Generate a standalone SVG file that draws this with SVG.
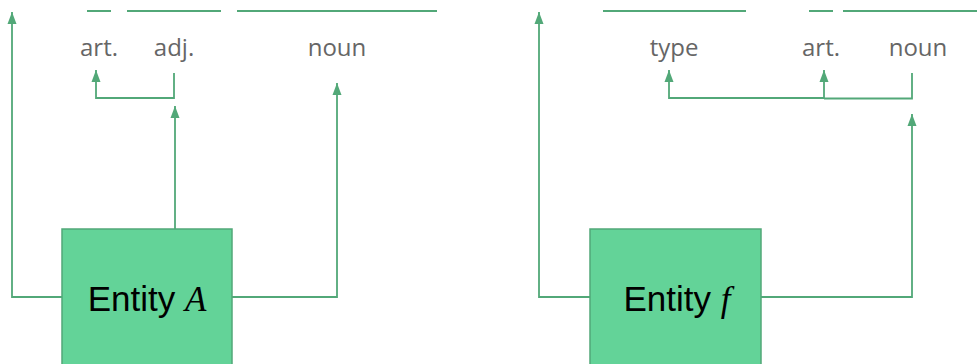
<svg xmlns="http://www.w3.org/2000/svg" width="977" height="364" viewBox="0 0 977 364">
  <style>
    .wire { fill: none; stroke: #52a878; stroke-width: 1.8; }
    .rule { fill: none; stroke: #52a878; stroke-width: 2; }
    .box { fill: #63d398; stroke: #52a878; stroke-width: 1.5; }
    .lbl { font-family: "Open Sans", "Liberation Sans", sans-serif; font-size: 24px; fill: #666666; text-anchor: middle; }
    .ent { font-family: "Liberation Sans", Arial, sans-serif; font-size: 35px; fill: #000000; text-anchor: middle; }
    .var { font-family: "Liberation Serif", "Times New Roman", serif; font-style: italic; }
  </style>
  <defs>
    <!-- arrowhead drawn along +x, tip at the path end -->
    <marker id="arrow" markerUnits="userSpaceOnUse" markerWidth="13" markerHeight="12" viewBox="0 0 13 12" refX="12" refY="6" orient="auto">
      <path d="M12 6 L0 1.5 L0 10.5 Z" fill="#52a878"/>
    </marker>
  </defs>

  <!-- word slots -->
  <g id="slots">
    <line class="rule" x1="87" y1="11" x2="111" y2="11"/>
    <line class="rule" x1="127" y1="11" x2="221" y2="11"/>
    <line class="rule" x1="237" y1="11" x2="437" y2="11"/>
    <line class="rule" x1="603" y1="11" x2="746" y2="11"/>
    <line class="rule" x1="809" y1="11" x2="833" y2="11"/>
    <line class="rule" x1="843" y1="11" x2="977" y2="11"/>
  </g>

  <!-- word labels -->
  <g id="labels">
    <text class="lbl" x="99" y="56">art.</text>
    <text class="lbl" x="174" y="56">adj.</text>
    <text class="lbl" x="337" y="56">noun</text>
    <text class="lbl" x="674" y="56">type</text>
    <text class="lbl" x="821" y="56">art.</text>
    <text class="lbl" x="918" y="56">noun</text>
  </g>

  <g id="connectors">
    <!-- left entity -->
    <polyline class="wire" points="62,297 12,297 12,12" marker-end="url(#arrow)"/>
    <polyline class="wire" points="175,229 175,106" marker-end="url(#arrow)"/>
    <polyline class="wire" points="232,297 337,297 337,83" marker-end="url(#arrow)"/>
    <polyline class="wire" points="174,73 174,98 96,98 96,70" marker-end="url(#arrow)"/>
    <!-- right entity -->
    <polyline class="wire" points="590,297 539,297 539,12" marker-end="url(#arrow)"/>
    <polyline class="wire" points="761,297 912,297 912,114" marker-end="url(#arrow)"/>
    <polyline class="wire" points="912,73 912,98.5 824,98.5"/>
    <polyline class="wire" points="824,98 669,98 669,70" marker-end="url(#arrow)"/>
    <polyline class="wire" points="824,98 824,70" marker-end="url(#arrow)"/>
  </g>

  <g id="entity-a">
    <rect class="box" x="62" y="229" width="170" height="140"/>
    <text class="ent" x="147" y="311">Entity <tspan class="var">A</tspan></text>
  </g>

  <g id="entity-f">
    <rect class="box" x="590" y="229" width="171" height="140"/>
    <text class="ent" x="677" y="311">Entity <tspan class="var">f</tspan></text>
  </g>
</svg>
